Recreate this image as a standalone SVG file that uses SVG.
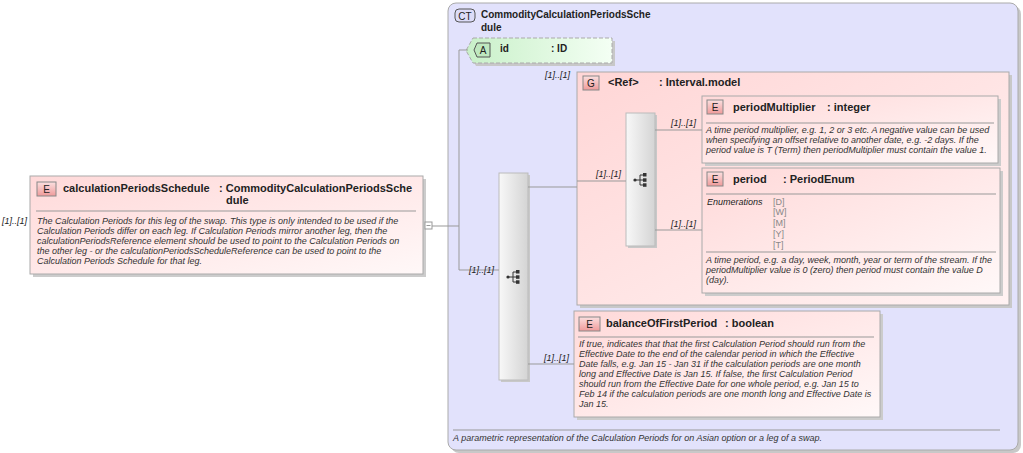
<svg xmlns="http://www.w3.org/2000/svg" width="1023" height="453" viewBox="0 0 1023 453">
<defs>
<linearGradient id="pink" x1="0" y1="0" x2="1" y2="1"><stop offset="0" stop-color="#ffd9d9"/><stop offset="1" stop-color="#fff8f8"/></linearGradient>
<linearGradient id="grp" x1="0" y1="0" x2="1" y2="1"><stop offset="0" stop-color="#ffd6d6"/><stop offset="1" stop-color="#fff2f2"/></linearGradient>
<linearGradient id="green" x1="0" y1="0" x2="1" y2="0"><stop offset="0" stop-color="#c8f0c8"/><stop offset="1" stop-color="#f4fff4"/></linearGradient>
<linearGradient id="gray" x1="0" y1="0" x2="1" y2="0"><stop offset="0" stop-color="#f8f8f8"/><stop offset="1" stop-color="#d4d4d4"/></linearGradient>
<linearGradient id="badge" x1="0" y1="0" x2="0" y2="1"><stop offset="0" stop-color="#fbe0e0"/><stop offset="1" stop-color="#ef9a9a"/></linearGradient>
<g id="seqicon"><circle cx="-6" cy="0" r="1.6" fill="#333"/><line x1="-6" y1="0" x2="-1" y2="0" stroke="#333"/><line x1="-1" y1="-5" x2="-1" y2="5" stroke="#333"/><line x1="-1" y1="-5" x2="3" y2="-5" stroke="#333"/><line x1="-1" y1="0" x2="3" y2="0" stroke="#333"/><line x1="-1" y1="5" x2="3" y2="5" stroke="#333"/><rect x="2" y="-7" width="3.5" height="3.5" fill="#333"/><rect x="2" y="-1.7" width="3.5" height="3.5" fill="#333"/><rect x="2" y="3.3" width="3.5" height="3.5" fill="#333"/></g>
</defs>
<style>
text{font-family:"Liberation Sans",Arial,sans-serif;fill:#222}
.t{font-size:11px;font-weight:bold}
.d{font-size:9px;font-style:italic;fill:#333}
.m{font-size:9px;font-style:italic}
.b{font-size:10px}
.e{font-size:9px;fill:#888}
.box{fill:url(#pink);stroke:#aaa;stroke-width:1}
.sh{fill:#ccc}
.sep{stroke:#999;stroke-width:1}
.bd{fill:url(#badge);stroke:#888}
.cn{stroke:#999;stroke-width:1;fill:none}
.seq{fill:url(#gray);stroke:#bbb}
</style>

<g id="ct">
<rect x="451" y="6" width="570" height="447" rx="8" fill="#c8c8c8"/>
<rect x="448" y="3" width="570" height="447" rx="8" fill="#e2e2fc" stroke="#aaa"/>
<rect x="455" y="9" width="20" height="13" rx="4" fill="#dcdcf8" stroke="#555"/>
<text x="465" y="19.5" class="b" text-anchor="middle">CT</text>
<text x="481" y="18" class="b" style="font-weight:bold">CommodityCalculationPeriodsSche</text>
<text x="481" y="31" class="b" style="font-weight:bold">dule</text>
<line x1="453" y1="430" x2="1000" y2="430" class="sep"/>
<text x="453" y="441" class="d">A parametric representation of the Calculation Periods for on Asian option or a leg of a swap.</text>
</g>

<g id="calculationPeriodsSchedule">
<rect x="33" y="179" width="393" height="98" class="sh"/>
<rect x="30" y="176" width="393" height="98" class="box"/>
<rect x="37" y="182" width="19" height="14" class="bd"/>
<text x="46.5" y="193" class="b" text-anchor="middle">E</text>
<text x="63" y="192" class="t">calculationPeriodsSchedule</text>
<text x="219" y="192" class="t">: CommodityCalculationPeriodsSche</text>
<text x="226" y="204" class="t">dule</text>
<line x1="36" y1="211" x2="416" y2="211" class="sep"/>
<text class="d"><tspan x="37" y="224">The Calculation Periods for this leg of the swap. This type is only intended to be used if the</tspan><tspan x="37" y="234">Calculation Periods differ on each leg. If Calculation Periods mirror another leg, then the</tspan><tspan x="37" y="244">calculationPeriodsReference element should be used to point to the Calculation Periods on</tspan><tspan x="37" y="254">the other leg - or the calculationPeriodsScheduleReference can be used to point to the</tspan><tspan x="37" y="264">Calculation Periods Schedule for that leg.</tspan></text>
</g>

<g id="id">
<path d="M476,41 H615 V66 H476 L469,53.5 Z" fill="#c8c8c8"/>
<path d="M473,38 H612 V63 H473 L466,50.5 Z" fill="url(#green)" stroke="#aaa" stroke-dasharray="4,2"/>
<path d="M477,43 H490 V57 H477 L474,50 Z" fill="#bfe8bf" stroke="#555"/>
<text x="483" y="54" class="b" text-anchor="middle">A</text>
<text x="500" y="52" class="b" style="font-weight:bold">id</text>
<text x="551" y="52" class="b" style="font-weight:bold">: ID</text>
</g>

<g id="seq1">
<rect x="501" y="175" width="29" height="207" fill="#c8c8c8"/>
<rect x="499" y="173" width="29" height="207" class="seq"/>
<use href="#seqicon" x="514" y="277"/>
</g>

<g id="interval">
<rect x="580" y="75" width="432" height="233" fill="#c8c8c8"/>
<rect x="577" y="72" width="432" height="233" fill="url(#grp)" stroke="#aaa"/>
<rect x="583" y="76" width="16" height="14" class="bd"/>
<text x="591" y="87" class="b" text-anchor="middle">G</text>
<text x="608" y="86" class="t">&lt;Ref&gt;</text>
<text x="659" y="86" class="t">: Interval.model</text>
</g>

<g id="seq2">
<rect x="628" y="115" width="29" height="133" fill="#c8c8c8"/>
<rect x="626" y="113" width="29" height="133" class="seq"/>
<use href="#seqicon" x="641" y="180"/>
</g>

<g id="periodMultiplier">
<rect x="705" y="99" width="296" height="67" class="sh"/>
<rect x="702" y="96" width="296" height="67" class="box"/>
<rect x="707" y="100" width="16" height="14" class="bd"/>
<text x="715" y="111" class="b" text-anchor="middle">E</text>
<text x="733" y="111" class="t">periodMultiplier</text>
<text x="827" y="111" class="t">: integer</text>
<line x1="706" y1="123" x2="994" y2="123" class="sep"/>
<text class="d"><tspan x="706" y="133">A time period multiplier, e.g. 1, 2 or 3 etc. A negative value can be used</tspan><tspan x="706" y="143">when specifying an offset relative to another date, e.g. -2 days. If the</tspan><tspan x="706" y="153">period value is T (Term) then periodMultiplier must contain the value 1.</tspan></text>
</g>

<g id="period">
<rect x="705" y="171" width="298" height="125" class="sh"/>
<rect x="702" y="168" width="298" height="125" class="box"/>
<rect x="707" y="172" width="16" height="14" class="bd"/>
<text x="715" y="183" class="b" text-anchor="middle">E</text>
<text x="733" y="183" class="t">period</text>
<text x="783" y="183" class="t">: PeriodEnum</text>
<line x1="706" y1="194" x2="996" y2="194" class="sep"/>
<text x="707" y="205" class="m">Enumerations</text>
<text class="e"><tspan x="773" y="205">[D]</tspan><tspan x="773" y="215">[W]</tspan><tspan x="773" y="226">[M]</tspan><tspan x="773" y="237">[Y]</tspan><tspan x="773" y="248">[T]</tspan></text>
<line x1="706" y1="252" x2="996" y2="252" class="sep"/>
<text class="d"><tspan x="706" y="263">A time period, e.g. a day, week, month, year or term of the stream. If the</tspan><tspan x="706" y="273">periodMultiplier value is 0 (zero) then period must contain the value D</tspan><tspan x="706" y="283">(day).</tspan></text>
</g>

<g id="balanceOfFirstPeriod">
<rect x="577" y="314" width="306" height="106" class="sh"/>
<rect x="574" y="311" width="306" height="106" class="box"/>
<rect x="579" y="317" width="21" height="14" class="bd"/>
<text x="589.5" y="328" class="b" text-anchor="middle">E</text>
<text x="606" y="327" class="t">balanceOfFirstPeriod</text>
<text x="725" y="327" class="t">: boolean</text>
<line x1="578" y1="337" x2="874" y2="337" class="sep"/>
<text class="d"><tspan x="579" y="347">If true, indicates that that the first Calculation Period should run from the</tspan><tspan x="579" y="357">Effective Date to the end of the calendar period in which the Effective</tspan><tspan x="579" y="367">Date falls, e.g. Jan 15 - Jan 31 if the calculation periods are one month</tspan><tspan x="579" y="377">long and Effective Date is Jan 15. If false, the first Calculation Period</tspan><tspan x="579" y="387">should run from the Effective Date for one whole period, e.g. Jan 15 to</tspan><tspan x="579" y="397">Feb 14 if the calculation periods are one month long and Effective Date is</tspan><tspan x="579" y="407">Jan 15.</tspan></text>
</g>

<g id="connectors">
<rect x="425" y="222" width="7" height="7" fill="#fff" stroke="#999"/>
<line x1="426.5" y1="225.5" x2="430.5" y2="225.5" stroke="#999"/>
<polyline class="cn" points="432,226 459,226"/>
<polyline class="cn" points="468,50 459,50 459,270 499,270"/>
<polyline class="cn" points="528,187 577,187"/>
<polyline class="cn" points="577,181 626,181"/>
<polyline class="cn" points="528,364 574,364"/>
<polyline class="cn" points="655,130 702,130"/>
<polyline class="cn" points="655,230 702,230"/>
<text x="469" y="273" class="m">[1]..[1]</text>
<text x="545" y="78" class="m">[1]..[1]</text>
<text x="596" y="177" class="m">[1]..[1]</text>
<text x="671" y="126" class="m">[1]..[1]</text>
<text x="671" y="227" class="m">[1]..[1]</text>
<text x="544" y="361" class="m">[1]..[1]</text>
<text x="2" y="224" class="m">[1]..[1]</text>
</g>
</svg>
